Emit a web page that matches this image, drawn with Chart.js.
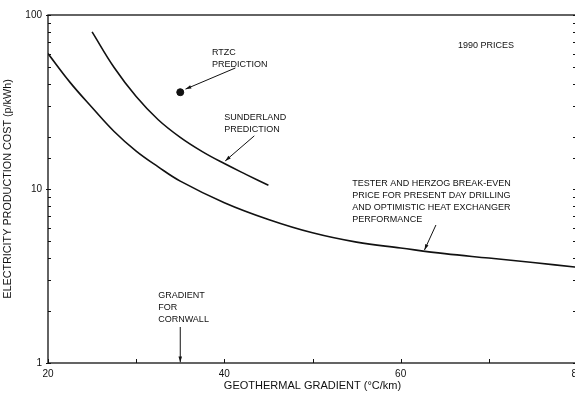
<!DOCTYPE html>
<html>
<head>
<meta charset="utf-8">
<script src="https://cdn.jsdelivr.net/npm/chart.js@4"></script>
<style>
  html, body { margin: 0; padding: 0; background: #fff; overflow: hidden; }
  #wrap { position: absolute; left: 0; top: 0; width: 600px; height: 394px; }
</style>
</head>
<body>
<div id="wrap"><canvas id="chart" width="600" height="394"></canvas></div>
<script>
// Tester and Herzog break-even curve
const testerX = [20, 22.5, 25, 27.5, 30, 32.5, 35, 40, 45, 50, 55, 60, 65, 70, 75, 80];
const testerY = [60, 41, 29.4, 21.4, 16.5, 13.4, 11.1, 8.34, 6.68, 5.6, 4.95, 4.58, 4.25, 4.01, 3.78, 3.55];

// Sunderland prediction curve
const sunderlandX = [25, 27.5, 30, 32.5, 35, 37.5, 40, 42.5, 45];
const sunderlandY = [80, 49.9, 34.0, 25.0, 19.8, 16.4, 14.0, 12.1, 10.5];

// RTZC prediction point
const rtzcX = [35];
const rtzcY = [36];

const xTickLabels = [20, 40, 60, 80];
const yTickLabels = [1, 10, 100];

const FONT = 'Liberation Sans, Arial, sans-serif';

const toPoints = (xs, ys) => xs.map((x, i) => ({ x: x, y: ys[i] }));

// notes drawn on the plot, anchored in data units
const notes = [
    { x: 38.6, y: 61, lines: ['RTZC', 'PREDICTION'] },
    { x: 40.0, y: 25.9, lines: ['SUNDERLAND', 'PREDICTION'] },
    { x: 66.5, y: 67, lines: ['1990 PRICES'] },
    { x: 54.5, y: 10.7, lines: ['TESTER AND HERZOG BREAK-EVEN', 'PRICE FOR PRESENT DAY DRILLING', 'AND OPTIMISTIC HEAT EXCHANGER', 'PERFORMANCE'] },
    { x: 32.5, y: 2.43, lines: ['GRADIENT', 'FOR', 'CORNWALL'] }
];
const arrows = [
    { from: [41.25, 49.6], to: [35.6, 37.5] },
    { from: [43.4, 20.2], to: [40.1, 14.5] },
    { from: [64.0, 6.21], to: [62.7, 4.46] },
    { from: [35, 1.61], to: [35, 1.01] }
];

const frameAndNotes = {
    id: 'frameAndNotes',
    afterDraw(chart) {
        const ctx = chart.ctx;
        const xs = chart.scales.x, ys = chart.scales.y;
        const a = chart.chartArea;
        ctx.save();
        ctx.strokeStyle = '#111';
        ctx.lineWidth = 1.3;
        ctx.strokeRect(a.left, a.top, a.right - a.left, a.bottom - a.top);

        // inward ticks
        ctx.lineWidth = 1;
        ctx.beginPath();
        ys.ticks.forEach(t => {
            const py = Math.round(ys.getPixelForValue(t.value)) + 0.5;
            const major = yTickLabels.includes(t.value);
            ctx.moveTo(a.left - (major ? 2 : 0), py);
            ctx.lineTo(a.left + 3, py);
            ctx.moveTo(a.right - 4, py);
            ctx.lineTo(a.right, py);
        });
        xs.ticks.forEach(t => {
            const px = Math.round(xs.getPixelForValue(t.value)) + 0.5;
            ctx.moveTo(px, a.bottom);
            ctx.lineTo(px, a.bottom - 4);
        });
        ctx.stroke();

        // arrows
        ctx.lineWidth = 1;
        ctx.fillStyle = '#111';
        arrows.forEach(ar => {
            const x1 = xs.getPixelForValue(ar.from[0]), y1 = ys.getPixelForValue(ar.from[1]);
            const x2 = xs.getPixelForValue(ar.to[0]), y2 = ys.getPixelForValue(ar.to[1]);
            const ang = Math.atan2(y2 - y1, x2 - x1);
            ctx.beginPath();
            ctx.moveTo(x1, y1);
            ctx.lineTo(x2, y2);
            ctx.stroke();
            ctx.beginPath();
            ctx.moveTo(x2, y2);
            ctx.lineTo(x2 - 6 * Math.cos(ang - 0.3), y2 - 6 * Math.sin(ang - 0.3));
            ctx.lineTo(x2 - 6 * Math.cos(ang + 0.3), y2 - 6 * Math.sin(ang + 0.3));
            ctx.closePath();
            ctx.fill();
        });

        // notes
        ctx.font = '9px ' + FONT;
        ctx.textAlign = 'left';
        ctx.textBaseline = 'middle';
        notes.forEach(n => {
            const px = xs.getPixelForValue(n.x), py = ys.getPixelForValue(n.y);
            n.lines.forEach((s, i) => ctx.fillText(s, px, py + i * 12));
        });
        ctx.restore();
    }
};

new Chart(document.getElementById('chart'), {
    type: 'line',
    data: {
        datasets: [
            {
                data: toPoints(testerX, testerY),
                borderColor: '#111', borderWidth: 1.6, pointRadius: 0,
                tension: 0.4
            },
            {
                data: toPoints(sunderlandX, sunderlandY),
                borderColor: '#111', borderWidth: 1.6, pointRadius: 0,
                tension: 0.4
            },
            {
                data: toPoints(rtzcX, rtzcY),
                showLine: false, pointRadius: 3.5,
                pointBackgroundColor: '#111', pointBorderColor: '#111'
            }
        ]
    },
    options: {
        responsive: false,
        animation: false,
        layout: { padding: { left: 0, right: 23, top: 15, bottom: 0 } },
        plugins: { legend: { display: false }, tooltip: { enabled: false } },
        scales: {
            x: {
                type: 'linear', min: 20, max: 80,
                grid: { display: false, drawTicks: false },
                border: { display: false },
                ticks: {
                    stepSize: 10, padding: 5, maxRotation: 0, autoSkip: false,
                    color: '#111', font: { family: FONT, size: 10 },
                    callback: v => xTickLabels.includes(v) ? String(v) : ''
                },
                title: {
                    display: true, text: 'GEOTHERMAL GRADIENT (°C/km)', color: '#111',
                    font: { family: FONT, size: 11 }, padding: { top: 0, bottom: 1 }
                },
                afterFit: s => { s.height = 31; }
            },
            y: {
                type: 'logarithmic', min: 1, max: 100,
                grid: { display: false, drawTicks: false },
                border: { display: false },
                ticks: {
                    padding: 6, autoSkip: false, color: '#111',
                    font: { family: FONT, size: 10 },
                    callback: v => yTickLabels.includes(v) ? String(v) : ''
                },
                title: {
                    display: true, text: 'ELECTRICITY PRODUCTION COST (p/kWh)', color: '#111',
                    font: { family: FONT, size: 10.8 }, padding: { top: 2, bottom: 0 }
                },
                afterFit: s => { s.width = 48; }
            }
        }
    },
    plugins: [frameAndNotes]
});
</script>
</body>
</html>
